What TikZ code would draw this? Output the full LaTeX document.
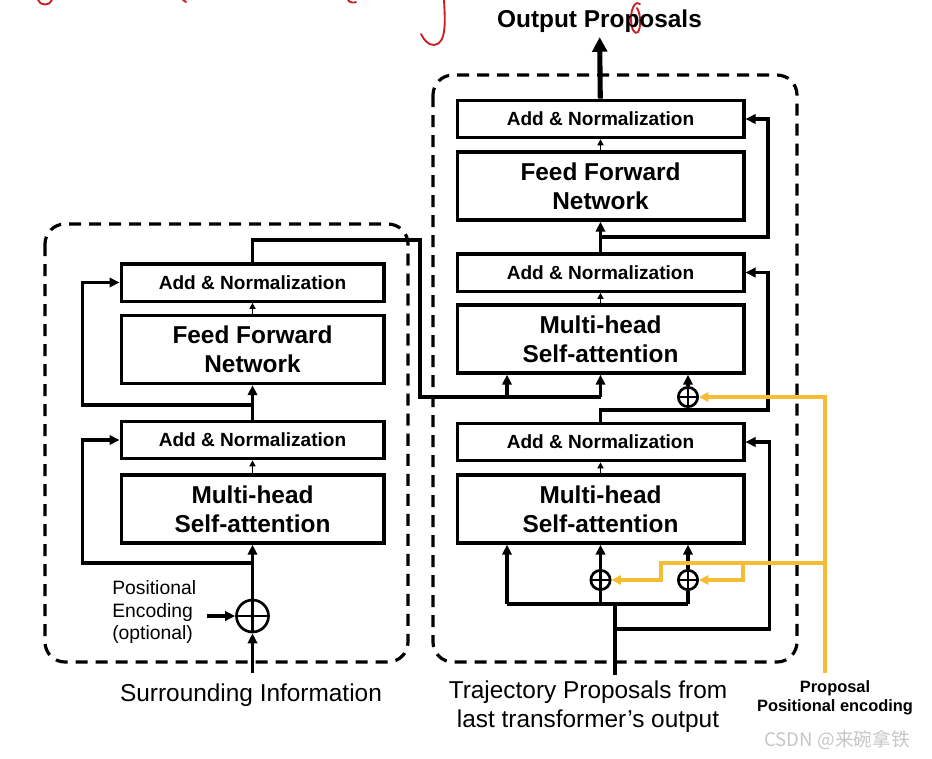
\documentclass[tikz,border=0pt]{standalone}
\usepackage{fontspec}
\setmainfont{Liberation Sans}
\newfontfamily\cjkfont{Noto Sans CJK SC}
\usetikzlibrary{arrows.meta, positioning, calc}

\definecolor{pencol}{RGB}{245,188,52}
\definecolor{inkred}{RGB}{200,32,32}

\begin{document}
\begin{tikzpicture}[
    x=0.75pt, y=-0.75pt,
    addnorm/.style={rectangle, draw, line width=2.5pt, minimum height=28pt, align=center, font=\bfseries\fontsize{14.3}{17}\selectfont},
    block/.style={rectangle, draw, line width=2.5pt, minimum height=51pt, align=center, font=\bfseries\fontsize{18.3}{22}\selectfont},
    lcol/.style={minimum width=197pt},
    rcol/.style={minimum width=215pt},
    oplus/.style={circle, draw, line width=2pt, inner sep=0pt,
        path picture={\draw[line width=2pt] (path picture bounding box.north) -- (path picture bounding box.south)
                                            (path picture bounding box.west) -- (path picture bounding box.east);}},
    main/.style={line width=2.4pt},
    dep/.style={line width=2.4pt, -{Triangle[length=7.5pt, width=7pt]}},
    small/.style={line width=1.2pt, -{Triangle[length=4.5pt, width=4.5pt]}},
    outarr/.style={line width=3.8pt, -{Triangle[length=11pt, width=11pt]}},
    encarr/.style={draw=pencol, line width=2.7pt, -{Triangle[length=7pt, width=7pt]}},
    dashbox/.style={draw, line width=2.4pt, dash pattern=on 9pt off 6pt, rounded corners=15pt},
    label/.style={font=\fontsize{18.3}{22}\selectfont, align=center}
]
\useasboundingbox (0,0) rectangle (932,758);

% handwriting at the top
\begin{scope}[draw=inkred, line width=1.4pt, line cap=round]
\draw (38,0) .. controls (40,6) and (50,6) .. (52,0);
\draw (183,0) -- (186,2);
\draw (348,0) .. controls (350,3) and (354,3) .. (356,2);
\draw (444,0) .. controls (445,20) and (447,44) .. (434,45) .. controls (428,45) and (424,40) .. (421,34);
\draw (640,4) .. controls (636,0) and (631,8) .. (631,18) .. controls (631,30) and (635,35) .. (638,32) .. controls (641,28) and (641,14) .. (637,8);
\end{scope}

% dashed encoder / decoder frames
\draw[dashbox] (45,224) rectangle (408,662);
\draw[dashbox] (433,75) rectangle (797,662);

% left stack
\node[addnorm, lcol] (lan2) at (252.5,282.5) {Add \& Normalization};
\node[block, lcol] (lffn) at (252.5,349.5) {Feed Forward\\Network};
\node[addnorm, lcol] (lan1) at (252.5,440) {Add \& Normalization};
\node[block, lcol] (lmha) at (252.5,509) {Multi-head\\Self-attention};
\node[oplus, minimum size=24pt] (lplus) at (252.5,616) {};

\node[font=\fontsize{14.5}{17}\selectfont, align=left, anchor=west, inner sep=0pt] (lpetxt) at (112,612) {Positional\\Encoding\\(optional)};
\node[label] (lsrctxt) at (251,695) {Surrounding Information};

\coordinate (lsrc) at (252.5,673);
\coordinate (lpe) at (207,616);
\coordinate (lres1) at (252.5,563);
\coordinate (lres2) at (252.5,405);
\coordinate (lturn) at (420,240);

\draw[dep] (lsrc) -- (lplus);
\draw[dep] (lpe) -- (lplus);
\draw[dep] (lplus) -- (lmha);
\draw[dep] (lres1) -| ($(lan1.west)+(-37,0)$) -- (lan1.west);
\draw[small] (lmha) -- (lan1);
\draw[dep] (lan1) -- (lffn);
\draw[dep] (lres2) -| ($(lan2.west)+(-37,0)$) -- (lan2.west);
\draw[small] (lffn) -- (lan2);

% right stack
\node[addnorm, rcol] (ran3) at (600.5,119) {Add \& Normalization};
\node[block, rcol] (rffn) at (600.5,186) {Feed Forward\\Network};
\node[addnorm, rcol] (ran2) at (600.5,272.5) {Add \& Normalization};
\node[block, rcol] (rmha2) at (600.5,339) {Multi-head\\Self-attention};
\node[addnorm, rcol] (ran1) at (600.5,442) {Add \& Normalization};
\node[block, rcol] (rmha1) at (600.5,509) {Multi-head\\Self-attention};
\node[oplus, minimum size=14.5pt] (rpm) at (688,397) {};
\node[oplus, minimum size=14.5pt] (rpq) at (600.5,580) {};
\node[oplus, minimum size=14.5pt] (rpk) at (688,580) {};

\node[font=\bfseries\fontsize{18.3}{22}\selectfont] (outp) at (599.5,21) {Output Proposals};
\node[label] (rsrctxt) at (588,707) {Trajectory Proposals from\\last transformer’s output};
\node[font=\bfseries\fontsize{12.3}{14.3}\selectfont, align=center] (enctxt) at (835,698) {Proposal\\Positional encoding};

\coordinate (rsrc) at (615,675);
\coordinate (rsplit) at (615,604);
\coordinate (rq) at (507,604);
\coordinate (rv) at (688,604);
\coordinate (rres1) at (615,629);
\coordinate (rmid) at (600.5,410);
\coordinate (rmidr) at (768,410);
\coordinate (rjoin) at (600.5,397);
\coordinate (rk) at (507,397);
\coordinate (rtop) at (600.5,237);
\coordinate (rtopr) at (768,237);

% trajectory input and first block
\draw[main] (rsrc) -- (rsplit);
\draw[main] (rq) -- (rv);
\draw[dep] (rq) -- (rq |- rmha1.south);
\draw[main] (rsplit -| rpq) -- (rpq);
\draw[dep] (rpq) -- (rmha1);
\draw[main] (rv) -- (rpk);
\draw[dep] (rpk) -- (rpk |- rmha1.south);
\draw[dep] (rres1) -| ($(ran1.east)+(24,0)$) -- (ran1.east);
\draw[small] (rmha1) -- (ran1);

% second block (keys/values from the left stack)
\draw[main] (lan2.north) |- (lturn) |- (rjoin);
\draw[dep] (rjoin) -- (rmha2);
\draw[dep] (rk) -- (rk |- rmha2.south);
\draw[dep] (ran1.north) -- (rmid) -- (rmidr) |- (ran2.east);
\draw[main] (rmid -| rpm) -- (rpm);
\draw[dep] (rpm) -- (rpm |- rmha2.south);
\draw[small] (rmha2) -- (ran2);

% feed forward and output
\draw[dep] (ran2) -- (rffn);
\draw[dep] (rtop) -- (rtopr) |- (ran3.east);
\draw[small] (rffn) -- (ran3);
\draw[outarr] (ran3) -- (outp);

% proposal positional encoding
\coordinate (ybot) at (825,673);
\coordinate (ytop) at (825,397);
\coordinate (ymid) at (825,563);
\coordinate (yl) at (661,563);
\coordinate (yr) at (743,563);
\draw[encarr] (ybot) -- (ytop) -- (rpm);
\draw[encarr] (ymid) -- (yl) |- (rpq);
\draw[encarr] (yr) |- (rpk);

\node[font=\cjkfont\fontsize{14}{16}\selectfont, text=gray!45, anchor=east, inner sep=0pt] (wm) at (910,740) {CSDN @来碗拿铁};

\end{tikzpicture}
\end{document}
